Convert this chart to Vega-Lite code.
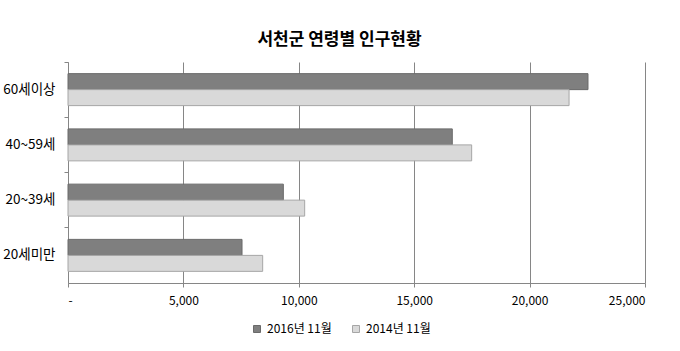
{
  "$schema": "https://vega.github.io/schema/vega-lite/v6.json",
  "autosize": {"type": "none"},
  "padding": {"left": 68, "top": 62, "right": 35, "bottom": 68},
  "width": 577,
  "height": 221,
  "background": "white",
  "title": {
    "text": "서천군 연령별 인구현황",
    "font": "Noto Sans CJK KR",
    "fontSize": 17,
    "fontWeight": "bold",
    "color": "#000000",
    "anchor": "middle",
    "dx": -17,
    "baseline": "alphabetic",
    "offset": 0
  },
  "data": {
    "values": [
      {"group": "60세이상", "year": "2016년 11월", "value": 22530},
      {"group": "60세이상", "year": "2014년 11월", "value": 21710},
      {"group": "40~59세", "year": "2016년 11월", "value": 16650},
      {"group": "40~59세", "year": "2014년 11월", "value": 17490},
      {"group": "20~39세", "year": "2016년 11월", "value": 9330},
      {"group": "20~39세", "year": "2014년 11월", "value": 10255},
      {"group": "20세미만", "year": "2016년 11월", "value": 7540},
      {"group": "20세미만", "year": "2014년 11월", "value": 8435}
    ]
  },
  "mark": {"type": "bar", "strokeWidth": 1},
  "encoding": {
    "y": {
      "field": "group",
      "type": "nominal",
      "sort": ["60세이상", "40~59세", "20~39세", "20세미만"],
      "scale": {"paddingInner": 0, "paddingOuter": 0},
      "axis": {
        "title": null,
        "bandPosition": 0,
        "domainColor": "#868686",
        "tickColor": "#868686",
        "tickSize": 4,
        "labelPadding": 9,
        "labelFont": "Noto Sans CJK KR",
        "labelFontSize": 13.5,
        "labelColor": "#000000"
      }
    },
    "yOffset": {
      "field": "year",
      "type": "nominal",
      "sort": ["2016년 11월", "2014년 11월"],
      "scale": {"paddingInner": 0, "paddingOuter": 0.727}
    },
    "x": {
      "field": "value",
      "type": "quantitative",
      "scale": {"domain": [0, 25000], "nice": false},
      "axis": {
        "title": null,
        "values": [0, 5000, 10000, 15000, 20000, 25000],
        "labelExpr": "datum.value == 0 ? '-' : format(datum.value, ',')",
        "grid": true,
        "gridColor": "#868686",
        "domainColor": "#868686",
        "tickColor": "#868686",
        "tickSize": 4,
        "labelPadding": 8,
        "labelFont": "Noto Sans CJK KR",
        "labelFontSize": 12,
        "labelColor": "#000000"
      }
    },
    "color": {
      "field": "year",
      "type": "nominal",
      "scale": {"domain": ["2016년 11월", "2014년 11월"], "range": ["#7f7f7f", "#d9d9d9"]},
      "legend": {
        "title": null,
        "orient": "none",
        "direction": "horizontal",
        "legendX": 183,
        "legendY": 261,
        "symbolType": "square",
        "symbolSize": 49,
        "symbolStrokeWidth": 1,
        "labelFont": "Noto Sans CJK KR",
        "labelFontSize": 12,
        "labelColor": "#000000",
        "labelOffset": 4,
        "columnPadding": 18
      }
    },
    "stroke": {
      "field": "year",
      "type": "nominal",
      "scale": {"domain": ["2016년 11월", "2014년 11월"], "range": ["#6a6a6a", "#a6a6a6"]},
      "legend": null
    }
  },
  "config": {
    "view": {"stroke": null},
    "font": "Noto Sans CJK KR"
  }
}
